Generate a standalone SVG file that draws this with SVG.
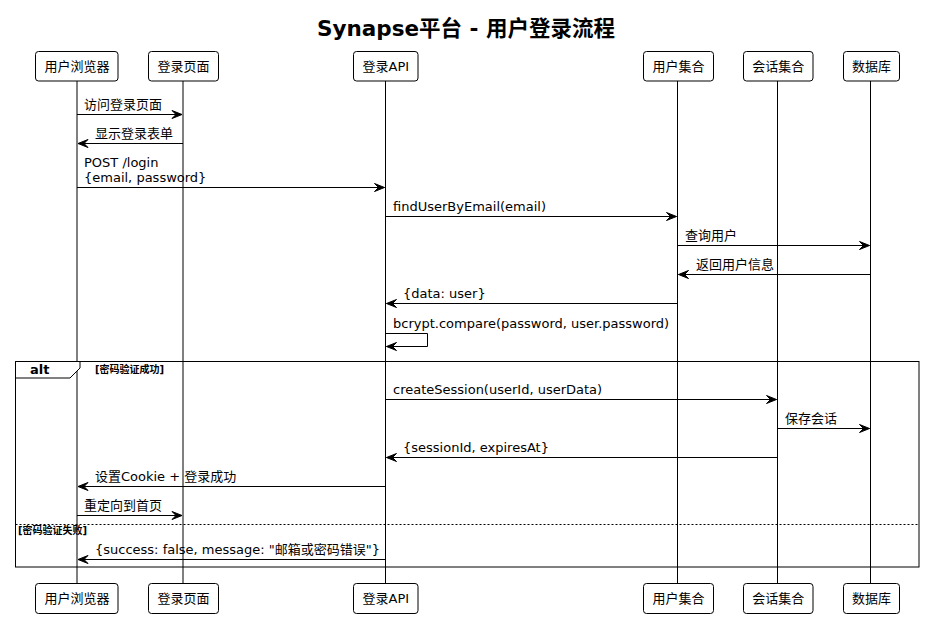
<svg xmlns="http://www.w3.org/2000/svg" width="925" height="619" viewBox="0 0 925 619">
<style>
text{font-family:"DejaVu Sans","Noto Sans CJK SC",sans-serif;fill:#000}
.t{font-size:21.5px;font-weight:bold}
.p{font-size:13px;text-anchor:middle}
.m{font-size:13px}
.c{font-size:10px;font-weight:bold}
.box{fill:#fff;stroke:#000;stroke-width:1}
.life{stroke:#000;stroke-width:1}
.msg{stroke:#000;stroke-width:1;fill:none}
.ah{fill:#000;stroke:#000;stroke-width:1}
</style>
<rect width="925" height="619" fill="#fff"/>
<text class="t" x="466" y="35.5" text-anchor="middle">Synapse平台 - 用户登录流程</text>

<g id="lifelines">
<line class="life" x1="77" y1="81" x2="77" y2="583"/>
<line class="life" x1="183" y1="81" x2="183" y2="583"/>
<line class="life" x1="385.5" y1="81" x2="385.5" y2="583"/>
<line class="life" x1="677.5" y1="81" x2="677.5" y2="583"/>
<line class="life" x1="777.5" y1="81" x2="777.5" y2="583"/>
<line class="life" x1="870.5" y1="81" x2="870.5" y2="583"/>
</g>

<g id="alt-frame">
<rect x="15.5" y="361.5" width="903.5" height="205.5" fill="none" stroke="#000" stroke-width="1"/>
<polygon points="15.5,361.5 80,361.5 80,368 70,378 15.5,378" fill="#fff" stroke="#000" stroke-width="1"/>
<text x="30" y="374" style="font-size:13px;font-weight:bold">alt</text>
<text class="c" x="95" y="372.5">[密码验证成功]</text>
<line x1="15.5" y1="524.5" x2="919" y2="524.5" stroke="#000" stroke-width="1" stroke-dasharray="2,2"/>
<text class="c" x="18" y="534">[密码验证失败]</text>
</g>

<g id="p-browser"><rect class="box" x="35.5" y="51.5" width="82.5" height="29.5" rx="3"/><text class="p" x="77" y="71">用户浏览器</text>
<rect class="box" x="35.5" y="583.5" width="82.5" height="30" rx="3"/><text class="p" x="77" y="603">用户浏览器</text></g>
<g id="p-loginpage"><rect class="box" x="148.5" y="51.5" width="70" height="29.5" rx="3"/><text class="p" x="183.5" y="71">登录页面</text>
<rect class="box" x="148.5" y="583.5" width="70" height="30" rx="3"/><text class="p" x="183.5" y="603">登录页面</text></g>
<g id="p-api"><rect class="box" x="353.5" y="51.5" width="64.5" height="29.5" rx="3"/><text class="p" x="385.8" y="71">登录API</text>
<rect class="box" x="353.5" y="583.5" width="64.5" height="30" rx="3"/><text class="p" x="385.8" y="603">登录API</text></g>
<g id="p-users"><rect class="box" x="643.5" y="51.5" width="70" height="29.5" rx="3"/><text class="p" x="678.5" y="71">用户集合</text>
<rect class="box" x="643.5" y="583.5" width="70" height="30" rx="3"/><text class="p" x="678.5" y="603">用户集合</text></g>
<g id="p-sessions"><rect class="box" x="743.5" y="51.5" width="69.5" height="29.5" rx="3"/><text class="p" x="778.3" y="71">会话集合</text>
<rect class="box" x="743.5" y="583.5" width="69.5" height="30" rx="3"/><text class="p" x="778.3" y="603">会话集合</text></g>
<g id="p-db"><rect class="box" x="843.5" y="51.5" width="56" height="29.5" rx="3"/><text class="p" x="871.5" y="71">数据库</text>
<rect class="box" x="843.5" y="583.5" width="56" height="30" rx="3"/><text class="p" x="871.5" y="603">数据库</text></g>

<g id="connectors">
<line class="msg" x1="77" y1="114.5" x2="182" y2="114.5"/><polygon class="ah" points="182,114.5 172,110.5 176,114.5 172,118.5"/>
<text class="m" x="84" y="109">访问登录页面</text>

<line class="msg" x1="183" y1="143.5" x2="78" y2="143.5"/><polygon class="ah" points="78,143.5 88,139.5 84,143.5 88,147.5"/>
<text class="m" x="95" y="138">显示登录表单</text>

<line class="msg" x1="77" y1="187.5" x2="384.5" y2="187.5"/><polygon class="ah" points="384.5,187.5 374.5,183.5 378.5,187.5 374.5,191.5"/>
<text class="m" x="84" y="167">POST /login</text>
<text class="m" x="84" y="182">{email, password}</text>

<line class="msg" x1="385.5" y1="216.5" x2="676.5" y2="216.5"/><polygon class="ah" points="676.5,216.5 666.5,212.5 670.5,216.5 666.5,220.5"/>
<text class="m" x="393" y="211">findUserByEmail(email)</text>

<line class="msg" x1="677.5" y1="245.5" x2="869.5" y2="245.5"/><polygon class="ah" points="869.5,245.5 859.5,241.5 863.5,245.5 859.5,249.5"/>
<text class="m" x="685" y="240">查询用户</text>

<line class="msg" x1="870.5" y1="274.5" x2="678.5" y2="274.5"/><polygon class="ah" points="678.5,274.5 688.5,270.5 684.5,274.5 688.5,278.5"/>
<text class="m" x="696" y="269">返回用户信息</text>

<line class="msg" x1="677.5" y1="303.5" x2="386.5" y2="303.5"/><polygon class="ah" points="386.5,303.5 396.5,299.5 392.5,303.5 396.5,307.5"/>
<text class="m" x="403" y="298">{data: user}</text>

<polyline class="msg" points="385.5,333.5 427.5,333.5 427.5,346.5 386.5,346.5"/><polygon class="ah" points="386.5,346.5 396.5,342.5 392.5,346.5 396.5,350.5"/>
<text class="m" x="393" y="328">bcrypt.compare(password, user.password)</text>

<line class="msg" x1="385.5" y1="399.5" x2="776.5" y2="399.5"/><polygon class="ah" points="776.5,399.5 766.5,395.5 770.5,399.5 766.5,403.5"/>
<text class="m" x="393" y="394">createSession(userId, userData)</text>

<line class="msg" x1="777.5" y1="428.5" x2="869.5" y2="428.5"/><polygon class="ah" points="869.5,428.5 859.5,424.5 863.5,428.5 859.5,432.5"/>
<text class="m" x="785" y="423">保存会话</text>

<line class="msg" x1="777.5" y1="457.5" x2="386.5" y2="457.5"/><polygon class="ah" points="386.5,457.5 396.5,453.5 392.5,457.5 396.5,461.5"/>
<text class="m" x="403" y="452">{sessionId, expiresAt}</text>

<line class="msg" x1="385.5" y1="486.5" x2="78" y2="486.5"/><polygon class="ah" points="78,486.5 88,482.5 84,486.5 88,490.5"/>
<text class="m" x="95" y="481">设置Cookie + 登录成功</text>

<line class="msg" x1="77" y1="515.5" x2="182" y2="515.5"/><polygon class="ah" points="182,515.5 172,511.5 176,515.5 172,519.5"/>
<text class="m" x="84" y="510">重定向到首页</text>

<line class="msg" x1="385.5" y1="559.5" x2="78" y2="559.5"/><polygon class="ah" points="78,559.5 88,555.5 84,559.5 88,563.5"/>
<text class="m" x="95" y="554">{success: false, message: "邮箱或密码错误"}</text>
</g>
</svg>
